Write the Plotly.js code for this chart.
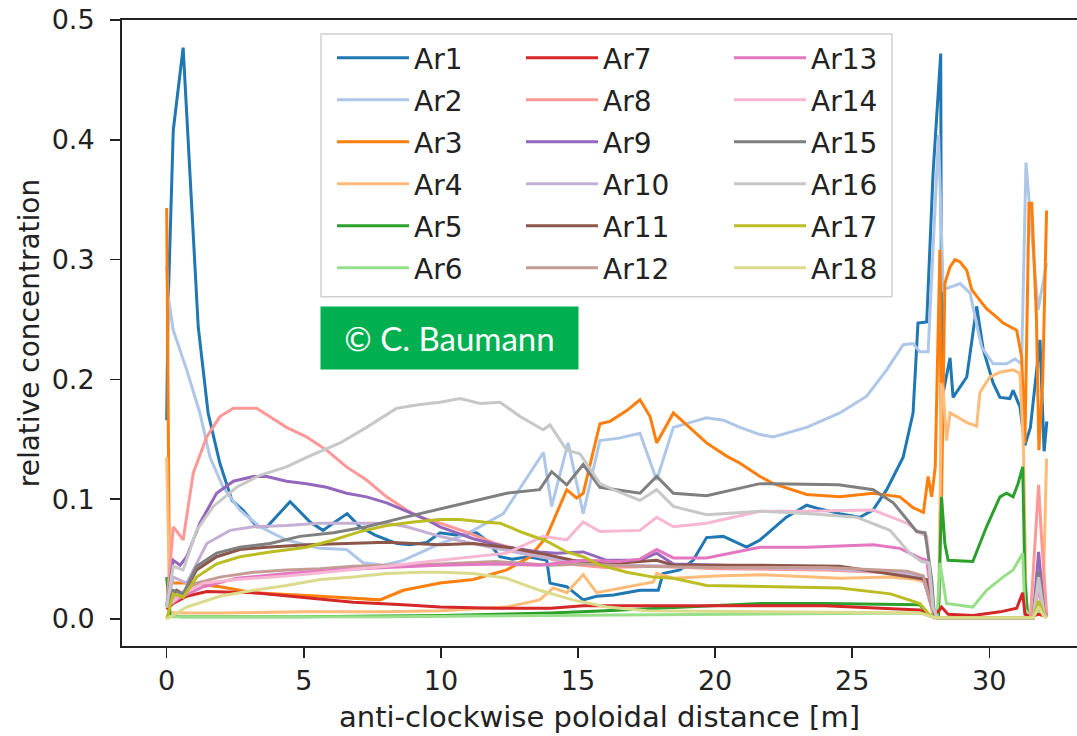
<!DOCTYPE html>
<html>
<head>
<meta charset="utf-8">
<script src="https://cdn.plot.ly/plotly-3.0.1.min.js"></script>
<style>html,body{margin:0;padding:0;background:#fff;}#chart{width:1077px;height:736px;}</style>
</head>
<body>
<div id="chart"></div>
<script>
// ---- data ----
const names = ["Ar1","Ar2","Ar3","Ar4","Ar5","Ar6","Ar7","Ar8","Ar9","Ar10","Ar11","Ar12","Ar13","Ar14","Ar15","Ar16","Ar17","Ar18"];
const colors = ["#1f77b4","#aec7e8","#ff7f0e","#ffbb78","#2ca02c","#98df8a","#d62728","#ff9896","#9467bd","#c5b0d5","#8c564b","#c49c94","#e377c2","#f7b6d2","#7f7f7f","#c7c7c7","#bcbd22","#dbdb8d"];

const ar1X = [0,0.05,0.24,0.6,1.15,1.51,1.94,2.38,2.78,3.29,3.66,4.5,5.23,5.7,6.07,6.58,7.05,7.6,8.4,8.87,9.49,9.97,10.6,11.3,11.7,12.15,12.6,13.2,13.86,13.98,14.59,15.19,15.68,16.3,17.26,17.93,18.1,18.72,19.2,19.69,20.3,21.15,21.64,22.6,23.34,23.8,24.55,25.28,25.76,26.26,26.86,27.22,27.4,27.72,27.95,28.23,28.26,28.32,28.57,28.68,29.18,29.54,29.78,30.14,30.39,30.75,30.87,31.12,31.3,31.5,31.85,32.0,32.1];
const ar1Y = [0.166,0.26,0.408,0.477,0.244,0.172,0.130,0.099,0.091,0.077,0.077,0.098,0.081,0.074,0.080,0.088,0.077,0.070,0.063,0.062,0.064,0.072,0.070,0.072,0.065,0.052,0.050,0.052,0.049,0.030,0.027,0.016,0.019,0.020,0.024,0.024,0.038,0.041,0.049,0.068,0.069,0.060,0.066,0.085,0.095,0.092,0.088,0.085,0.091,0.108,0.135,0.172,0.247,0.248,0.372,0.472,0.200,0.189,0.218,0.185,0.202,0.261,0.225,0.197,0.185,0.184,0.191,0.177,0.145,0.160,0.233,0.140,0.165];

const ar2X = [0,0.05,0.24,0.73,1.21,1.58,2.06,2.67,3.4,4.37,5.59,6.56,7.16,7.9,8.63,9.49,9.97,10.6,11.18,12.28,13.0,13.74,14.04,14.64,15.19,15.8,16.5,17.26,17.87,18.48,19.69,20.3,20.91,21.64,22.12,23.34,24.55,25.53,26.26,26.86,27.22,27.47,27.77,28.15,28.32,28.57,28.94,29.3,29.54,29.72,30.14,30.63,30.94,31.18,31.34,31.6,31.78,32.09];
const ar2Y = [0.295,0.270,0.241,0.208,0.172,0.135,0.110,0.091,0.077,0.066,0.059,0.058,0.047,0.045,0.049,0.058,0.063,0.068,0.074,0.088,0.113,0.139,0.094,0.147,0.088,0.149,0.151,0.155,0.116,0.160,0.168,0.166,0.160,0.154,0.152,0.160,0.172,0.186,0.208,0.229,0.230,0.223,0.223,0.404,0.275,0.277,0.280,0.272,0.247,0.227,0.213,0.213,0.217,0.213,0.381,0.308,0.258,0.297];

const ar3X = [0,0.1,0.24,0.73,1.94,3.17,5.6,7.78,8.63,9.97,11.18,12.4,13.25,13.86,14.59,14.95,15.19,15.8,16.17,16.78,17.26,17.63,17.87,18.48,19.69,20.42,20.91,21.64,22.12,23.34,24.55,25.76,26.74,27.22,27.6,27.77,27.9,28.03,28.2,28.26,28.38,28.57,28.75,28.94,29.18,29.36,29.66,29.9,30.27,30.51,31.0,31.18,31.3,31.45,31.55,31.72,31.81,31.95,32.09];
const ar3Y = [0.343,0.030,0.030,0.030,0.027,0.022,0.019,0.016,0.024,0.030,0.033,0.041,0.052,0.069,0.108,0.101,0.105,0.163,0.165,0.174,0.183,0.169,0.147,0.172,0.147,0.136,0.130,0.119,0.113,0.104,0.102,0.105,0.102,0.093,0.089,0.119,0.102,0.127,0.308,0.102,0.280,0.294,0.300,0.298,0.291,0.275,0.266,0.259,0.252,0.247,0.241,0.219,0.147,0.347,0.347,0.252,0.141,0.200,0.341];

const ar4X = [0,0.12,0.3,2,5,8,10,12.4,13.6,14.1,14.59,15.19,15.68,16.65,17.75,17.87,18.48,20,21.64,24.55,26.4,27.35,27.72,27.95,28.15,28.26,28.32,28.44,28.57,28.81,29.18,29.54,29.66,30.02,30.39,30.87,31.12,31.25,31.35,31.6,31.8,31.95,32.09];
const ar4Y = [0.135,0.006,0.005,0.005,0.006,0.006,0.007,0.010,0.016,0.026,0.022,0.037,0.022,0.026,0.031,0.038,0.034,0.036,0.037,0.034,0.035,0.033,0.030,0.002,0.002,0.197,0.191,0.149,0.172,0.169,0.164,0.161,0.189,0.202,0.206,0.208,0.205,0.141,0.003,0.003,0.010,0.003,0.134];

const ar5X = [0,0.12,0.5,5,10,14,16,18,20,21.64,24,27.47,27.8,28.0,28.15,28.26,28.38,28.5,29.4,29.66,29.9,30.39,30.63,30.87,31.05,31.22,31.3,31.4,31.8,32.1];
const ar5Y = [0.035,0.003,0.002,0.002,0.003,0.005,0.007,0.009,0.011,0.013,0.013,0.012,0.003,0.002,0.003,0.102,0.063,0.049,0.048,0.063,0.077,0.102,0.105,0.102,0.113,0.127,0.033,0.004,0.008,0.004];

const ar6X = [0,0.12,2,8,14,20,27.5,27.9,28.1,28.2,28.38,28.44,29.4,29.9,30.5,30.87,31.22,31.3,31.5,31.8,32.1];
const ar6Y = [0.004,0.002,0.002,0.002,0.003,0.004,0.005,0.002,0.002,0.047,0.024,0.013,0.010,0.024,0.035,0.041,0.055,0.008,0.003,0.005,0.003];

const ar7X = [0,0.24,0.73,1.46,3.17,5.1,6.8,8.63,9.97,12,14,15.19,17,19,21,24,27.47,27.8,28.0,28.26,28.5,29.4,30.4,31.0,31.22,31.3,31.5,31.8,32.1];
const ar7Y = [0.008,0.013,0.019,0.023,0.022,0.018,0.014,0.012,0.010,0.009,0.009,0.011,0.011,0.011,0.011,0.011,0.0075,0.003,0.002,0.010,0.004,0.003,0.006,0.009,0.022,0.004,0.002,0.004,0.002];

const ar8X = [0,0.24,0.6,0.97,1.46,1.94,2.43,3.28,4.37,5.1,5.83,6.56,7.29,8.02,8.75,9.24,9.97,11,12,13,14,15,16,18,20,24,27,27.5,27.8,28.0,31.5,31.7,31.8,31.9,32.1];
const ar8Y = [0.010,0.077,0.066,0.122,0.152,0.169,0.176,0.176,0.160,0.152,0.141,0.127,0.116,0.102,0.091,0.085,0.080,0.072,0.063,0.057,0.050,0.045,0.043,0.044,0.042,0.041,0.038,0.036,0.030,0.001,0.001,0.080,0.112,0.070,0.002];

const ar9X = [0,0.24,0.49,0.73,1.21,1.82,2.43,3.16,3.65,4.37,5.1,5.83,6.56,7.29,8.02,8.75,9.48,9.97,11.18,12.4,13.6,14.2,15.19,16.05,17.26,17.87,18.48,21.64,25,27.0,27.6,27.9,28.1,31.6,31.8,32.0,32.1];
const ar9Y = [0.010,0.049,0.045,0.052,0.080,0.105,0.115,0.119,0.119,0.115,0.113,0.110,0.105,0.102,0.097,0.090,0.083,0.077,0.067,0.060,0.056,0.055,0.056,0.049,0.049,0.055,0.046,0.044,0.042,0.038,0.033,0.010,0.001,0.001,0.056,0.005,0.003];

const ar10X = [0,0.24,0.73,1.46,2.31,3.16,4.37,5.59,6.8,8.02,8.75,9.48,9.97,11.8,13.6,15,17,20,24,27,27.6,27.9,28.1,31.6,31.8,32.0,32.1];
const ar10Y = [0.010,0.035,0.030,0.063,0.074,0.077,0.078,0.080,0.080,0.080,0.077,0.072,0.069,0.060,0.052,0.047,0.045,0.043,0.042,0.038,0.034,0.010,0.001,0.001,0.030,0.004,0.002];

const ar11X = [0,0.36,0.6,1.09,1.82,2.67,3.65,5.1,6.56,8.02,9.0,9.97,11.18,12.4,13.6,14.8,16.05,17.87,18.48,21.64,24.55,27.22,27.72,27.95,28.1,31.6,31.8,32.0,32.1];
const ar11Y = [0.010,0.024,0.021,0.041,0.052,0.058,0.060,0.062,0.063,0.064,0.063,0.062,0.063,0.060,0.055,0.049,0.046,0.049,0.045,0.045,0.044,0.035,0.033,0.010,0.001,0.001,0.030,0.004,0.002];

const ar12X = [0,0.49,1.09,1.94,3.16,4.37,5.59,6.8,8.02,9.97,12,14,15.2,17,20,24,27,27.6,27.9,28.1,31.6,31.8,32.0,32.1];
const ar12Y = [0.010,0.021,0.030,0.035,0.039,0.041,0.042,0.044,0.045,0.046,0.048,0.045,0.046,0.044,0.043,0.043,0.040,0.036,0.010,0.001,0.001,0.025,0.004,0.002];

const ar13X = [0,0.5,1.34,2.55,4.37,6.2,8.02,9.97,12,13.6,15.19,16.5,17.26,17.87,18.48,19.69,21.64,23.34,25.77,26.74,27.47,27.72,27.95,28.1,31.6,31.8,32.0,32.1];
const ar13Y = [0.010,0.018,0.027,0.034,0.038,0.041,0.043,0.045,0.046,0.045,0.049,0.048,0.050,0.058,0.051,0.051,0.060,0.060,0.062,0.059,0.051,0.049,0.010,0.001,0.001,0.028,0.004,0.002];

const ar14X = [0,0.5,1.34,2.55,4.37,6.2,8.02,9.97,12.4,13.73,14.59,15.19,15.8,17.26,17.87,18.48,19.69,21.64,23.34,25.77,27.0,27.47,27.72,27.95,28.1,31.6,31.8,32.0,32.1];
const ar14Y = [0.010,0.020,0.030,0.033,0.036,0.040,0.044,0.049,0.055,0.069,0.066,0.081,0.073,0.074,0.085,0.077,0.080,0.090,0.090,0.091,0.080,0.072,0.069,0.010,0.001,0.001,0.030,0.004,0.002];

const ar15X = [0,0.24,0.6,1.09,1.82,2.67,3.77,4.86,6.08,7.29,8.51,9.97,11.18,12.4,13.6,14.04,14.59,15.19,15.8,17.26,17.87,18.48,19.69,21.64,22.12,24.5,25.77,26.5,27.11,27.35,27.66,27.9,28.0,28.1,31.6,31.8,32.0,32.1];
const ar15Y = [0.010,0.024,0.021,0.044,0.055,0.060,0.063,0.069,0.072,0.077,0.084,0.092,0.098,0.105,0.108,0.123,0.112,0.129,0.110,0.105,0.119,0.105,0.103,0.113,0.113,0.112,0.108,0.097,0.080,0.073,0.072,0.033,0.003,0.001,0.001,0.040,0.004,0.002];

const ar16X = [0,0.24,0.6,1.09,1.7,2.55,3.4,4.37,5.1,6.32,7.29,8.39,9.24,9.97,10.7,11.43,12.16,12.89,13.73,13.98,14.59,15.07,15.8,16.29,17.26,17.87,18.48,19.69,21.64,23.34,25.16,26.38,27.1,27.53,27.8,27.95,28.1,31.6,31.8,32.0,32.1];
const ar16Y = [0.010,0.044,0.041,0.074,0.094,0.110,0.120,0.127,0.135,0.147,0.160,0.176,0.179,0.181,0.184,0.180,0.181,0.169,0.158,0.162,0.141,0.138,0.113,0.108,0.099,0.108,0.094,0.087,0.090,0.088,0.085,0.074,0.055,0.048,0.047,0.010,0.001,0.001,0.035,0.004,0.002];

const ar17X = [0,0.24,0.6,1.09,1.82,2.67,3.77,5.1,6.08,7.05,8.02,9.0,9.97,10.7,11.55,12.16,13.0,13.86,14.59,15.19,15.8,16.78,17.75,18.48,19.69,21.64,24.55,26.4,27.47,27.8,28.0,31.6,31.8,32.0,32.1];
const ar17Y = [0.000,0.021,0.018,0.035,0.046,0.052,0.056,0.060,0.066,0.073,0.078,0.081,0.083,0.083,0.081,0.080,0.072,0.065,0.056,0.052,0.045,0.039,0.035,0.034,0.028,0.027,0.026,0.021,0.013,0.004,0.001,0.001,0.015,0.003,0.001];

const ar18X = [0,0.73,1.94,3.16,4.37,5.59,6.8,8.02,9.24,9.97,11.18,12.4,13.6,14.8,16.05,17.5,21.64,27.5,27.9,28.1,31.6,31.8,32.0,32.1];
const ar18Y = [0.000,0.010,0.019,0.024,0.028,0.033,0.035,0.038,0.039,0.039,0.038,0.034,0.024,0.016,0.010,0.007,0.006,0.005,0.002,0.001,0.001,0.010,0.002,0.001];

const xTicks = [0,5,10,15,20,25,30];
const yTicks = [0.0,0.1,0.2,0.3,0.4,0.5];

// ---- build ----
const seriesX = [ar1X,ar2X,ar3X,ar4X,ar5X,ar6X,ar7X,ar8X,ar9X,ar10X,ar11X,ar12X,ar13X,ar14X,ar15X,ar16X,ar17X,ar18X];
const seriesY = [ar1Y,ar2Y,ar3Y,ar4Y,ar5Y,ar6Y,ar7Y,ar8Y,ar9Y,ar10Y,ar11Y,ar12Y,ar13Y,ar14Y,ar15Y,ar16Y,ar17Y,ar18Y];
const legendIds = ["legend","legend2","legend3"];

const traces = names.map((n, i) => ({
  type: "scatter", mode: "lines", name: n,
  x: seriesX[i], y: seriesY[i],
  line: {color: colors[i], width: 3},
  legend: legendIds[Math.floor(i / 6)],
  legendgroup: n
}));

const FONT = "DejaVu Sans, sans-serif";
const legendFont = {family: FONT, size: 28, color: "#222"};
function legendAt(x) {
  return {x: x, y: 0.979, xanchor: "left", yanchor: "top", bgcolor: "rgba(0,0,0,0)",
          borderwidth: 0, font: legendFont, tracegroupgap: 2.6, itemwidth: 72, orientation: "v"};
}

const layout = {
  width: 1077, height: 736,
  margin: {l: 122, r: 0, t: 20, b: 90},
  paper_bgcolor: "#fff", plot_bgcolor: "#fff",
  font: {family: FONT, size: 27, color: "#222"},
  showlegend: true,
  xaxis: {
    range: [-1.63, 33.2], tickvals: xTicks, ticks: "outside", ticklen: 10, tickwidth: 1.5,
    tickcolor: "#222", showline: true, linecolor: "#222", linewidth: 2, mirror: true,
    showgrid: false, zeroline: false, tickfont: {family: FONT, size: 27, color: "#222"},
    title: {text: "anti-clockwise poloidal distance [m]", font: {family: FONT, size: 29, color: "#222"}, standoff: 11}
  },
  yaxis: {
    range: [-0.0225, 0.5], tickvals: yTicks, tickformat: ".1f", ticks: "outside", ticklen: 10, tickwidth: 1.5,
    tickcolor: "#222", showline: true, linecolor: "#222", linewidth: 2, mirror: false,
    showgrid: false, zeroline: false, tickfont: {family: FONT, size: 27, color: "#222"}, ticklabelstandoff: 10,
    title: {text: "relative concentration", font: {family: FONT, size: 28, color: "#222"}, standoff: 4}
  },
  legend: legendAt(0.2199),
  legend2: legendAt(0.4178),
  legend3: legendAt(0.6356),
  shapes: [{
    type: "rect", xref: "paper", yref: "paper", x0: 0.2084, x1: 0.8063, y0: 0.5579, y1: 0.9777,
    fillcolor: "rgba(255,255,255,0.85)", line: {color: "#d0d0d0", width: 1.5}, layer: "above"
  }],
  annotations: [{
    xref: "paper", yref: "paper", x: 0.3429, y: 0.4924, xanchor: "center", yanchor: "middle",
    text: "© C. Baumann", showarrow: false, bgcolor: "#00b050", width: 253, height: 58,
    font: {family: "Lato, Open Sans, sans-serif", size: 33, color: "#ffffff"}, align: "center", borderpad: 2
  }]
};

Plotly.newPlot("chart", traces, layout, {displayModeBar: false, staticPlot: true});
</script>
</body>
</html>
